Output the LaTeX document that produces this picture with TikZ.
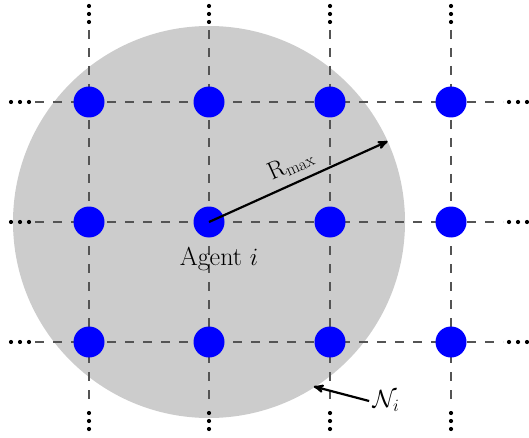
\documentclass[tikz,border=0pt]{standalone}
\usetikzlibrary{arrows}
\begin{document}
\begin{tikzpicture}[x=1pt,y=-1pt,
  gridline/.style={draw=black!67, line width=1.8pt, dash pattern=on 9pt off 9pt},
  agent/.style={circle, fill=blue, draw=none, minimum size=31pt, inner sep=0pt},
  tdot/.style={circle, fill=black, draw=none, minimum size=4.2pt, inner sep=0pt},
  arr/.style={draw=black, line width=2.2pt, -stealth'},
  lab/.style={font=\fontsize{26}{30}\selectfont}]
\useasboundingbox (0,0) rectangle (529,438);
% neighbourhood disc
\fill[black!20] (209,222) circle (196);
\coordinate (ctr) at (209,222);
% grid lines
\foreach \y/\r in {102/1,222/2,342/3}{
  \coordinate (hl\r) at (35,\y);
  \coordinate (hr\r) at (503,\y);
  \draw[gridline] (hl\r) -- (hr\r);
  \foreach \x/\k in {11/a,20/b,29/c}{\node[tdot] (dl\r\k) at (\x,\y) {};}
  \foreach \x/\k in {509/a,518/b,527/c}{\node[tdot] (dr\r\k) at (\x,\y) {};}
}
\foreach \x/\c in {89/1,209/2,330/3,451/4}{
  \coordinate (vt\c) at (\x,30);
  \coordinate (vb\c) at (\x,406);
  \draw[gridline] (vt\c) -- (vb\c);
  \foreach \y/\k in {6/a,14/b,22/c}{\node[tdot] (dt\c\k) at (\x,\y) {};}
  \foreach \y/\k in {413/a,421/b,429/c}{\node[tdot] (db\c\k) at (\x,\y) {};}
}
% agents
\foreach \x/\c in {89/1,209/2,330/3,451/4}{
  \foreach \y/\r in {102/1,222/2,342/3}{
    \node[agent] (n\c\r) at (\x,\y) {};
  }
}
% radius arrow
\path (n22.center) ++(-24.3:196) coordinate (rimpt);
\draw[arr] (n22.center) -- (rimpt)
  node[midway, sloped, above=4pt, lab] {$\mathrm{R}_{\mathrm{max}}$};
\node[lab] (agentlab) at (219,259) {Agent $i$};
% neighbourhood label
\node[lab] (nlab) at (386,401) {$\mathcal{N}_i$};
\path (ctr) ++(57.5:195) coordinate (rim2);
\draw[arr] (nlab.west) -- (rim2);
\end{tikzpicture}
\end{document}
